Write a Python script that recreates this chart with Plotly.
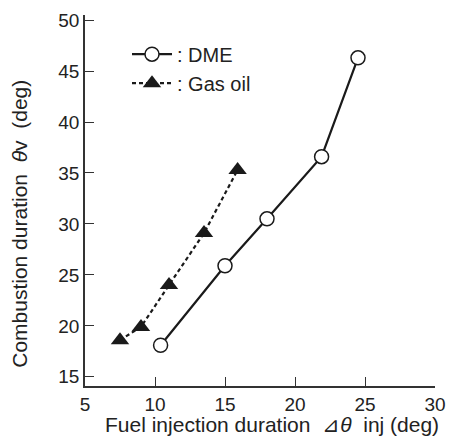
import plotly.graph_objects as go

# DME
dme_x = [10.4, 15.0, 18.0, 21.9, 24.5]
dme_y = [18.1, 25.9, 30.5, 36.6, 46.3]

# Gas oil
gas_x = [7.5, 9.0, 11.0, 13.5, 15.9]
gas_y = [18.6, 19.9, 24.0, 29.1, 35.3]

x_ticks = [5, 10, 15, 20, 25, 30]
y_ticks = [15, 20, 25, 30, 35, 40, 45, 50]

INK = "#1a1a1a"
TXT = "#222"
FONT = "Liberation Sans, Arial, sans-serif"
SP = "\u00a0"

fig = go.Figure()

fig.add_trace(go.Scatter(
    x=dme_x, y=dme_y,
    mode="lines+markers",
    name=": DME",
    line=dict(color=INK, width=2.2),
    marker=dict(symbol="circle", size=14, color="white",
                line=dict(color=INK, width=1.5)),
))
fig.add_trace(go.Scatter(
    x=gas_x, y=gas_y,
    mode="lines+markers",
    name=": Gas oil",
    line=dict(color=INK, width=2.2, dash="4px,3px"),
    marker=dict(symbol="triangle-up", size=16, color=INK,
                line=dict(color=INK, width=0)),
))

fig.update_layout(
    width=453, height=439,
    plot_bgcolor="white", paper_bgcolor="white",
    font=dict(family=FONT, size=19, color=TXT),
    margin=dict(l=85, r=18, t=15, b=53),
    showlegend=True,
    legend=dict(
        x=0.12, y=0.947, xanchor="left", yanchor="top",
        bgcolor="rgba(0,0,0,0)",
        font=dict(size=20, color=TXT),
        itemwidth=40, tracegroupgap=0,
    ),
    xaxis=dict(
        range=[5, 30], tickvals=x_ticks,
        showgrid=False, zeroline=False, automargin=False,
        showline=True, linecolor="#333", linewidth=1.5,
        ticks="inside", ticklen=9, tickcolor="#333", tickwidth=1.2,
        tickfont=dict(size=19),
    ),
    yaxis=dict(
        range=[14.1, 50.5], tickvals=y_ticks,
        showgrid=False, zeroline=False, automargin=False,
        showline=True, linecolor="#333", linewidth=1.5,
        ticks="inside", ticklen=9, tickcolor="#333", tickwidth=1.2,
        tickfont=dict(size=19),
    ),
    annotations=[
        dict(text=f"Fuel injection duration{SP*2}⊿<i>θ</i>{SP*2}inj (deg)",
             xref="paper", yref="paper", x=0.534, y=-0.141,
             xanchor="center", yanchor="bottom", showarrow=False,
             font=dict(size=21, color=TXT)),
        dict(text=f"Combustion duration{SP*2}<i>θ</i>v{SP*2}(deg)",
             xref="paper", yref="paper", x=-0.186, y=0.437,
             xanchor="center", yanchor="middle", showarrow=False,
             textangle=-90, font=dict(size=21, color=TXT)),
    ],
)

# the page's default body margin would push the 453x439 figure off the window
fig.write_html("out.html", config={"displayModeBar": False},
               post_script="document.body.style.margin='0';")
